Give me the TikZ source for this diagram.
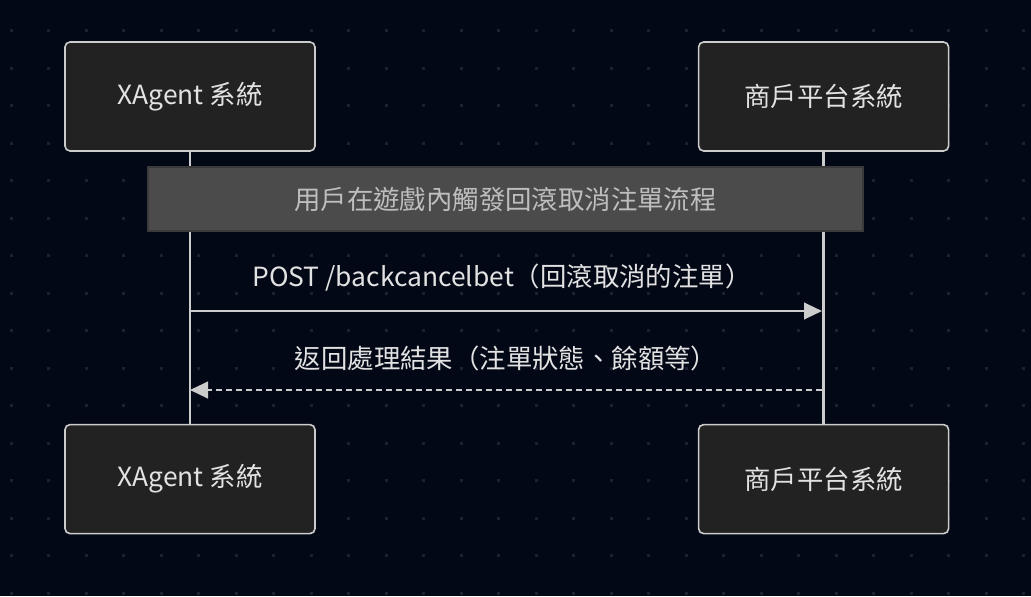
\documentclass[tikz,border=0pt]{standalone}
\usepackage{fontspec}
\setmainfont{Noto Sans CJK TC}
\usetikzlibrary{positioning}
\usetikzlibrary{arrows.meta}

\definecolor{bgnavy}{HTML}{020816}
\definecolor{dotgray}{HTML}{1B2130}
\definecolor{boxfill}{HTML}{212221}
\definecolor{linegray}{HTML}{CCCCCC}
\definecolor{notefill}{HTML}{4B4B4B}
\definecolor{noteline}{HTML}{3A3A3A}
\definecolor{notetext}{HTML}{BEBEBE}
\definecolor{msgtext}{HTML}{E2E2E2}

\begin{document}
\begin{tikzpicture}[x=0.75pt,y=-0.75pt,
			font=\fontsize{19.8}{23}\selectfont,
			actor/.style={draw=linegray,line width=1.2pt,fill=boxfill,rounded corners=3.75pt,
				minimum width=187.5pt,minimum height=81.75pt,text=msgtext},
			notebox/.style={draw=noteline,line width=0.8pt,fill=notefill,
				minimum width=536.25pt,minimum height=48pt,text=notetext},
			life/.style={draw=linegray,line width=2pt},
			msg/.style={draw=linegray,line width=1.6pt,-{Triangle[length=13.5pt,width=12.5pt]}},
			reply/.style={msg,dash pattern=on 4.5pt off 3pt},
			msglabel/.style={text=msgtext}]
			% background and dot grid
			\fill[bgnavy] (0,0) rectangle (1031,596);
			\foreach \i in {0,...,27}
				\foreach \j in {0,...,15}
					\fill[dotgray] (9.5+37.5*\i,29.2+37.5*\j) rectangle ++(3,3);
			% participants
			\node[actor] (xa) at (190,96.5) {XAgent 系統};
			\node[actor, right=286.5pt of xa] (sa) {商戶平台系統};
			\node[actor, below=204pt of xa] (xb) {XAgent 系統};
			\node[actor, below=204pt of sa] (sb) {商戶平台系統};
			\draw[life] (xa) -- (xb);
			\draw[life] (sa) -- (sb);
			% note
			\node[notebox] (flow) at (505.5,199) {用戶在遊戲內觸發回滾取消注單流程};
			% messages
			\coordinate (req1) at (190,311);
			\coordinate (req2) at (822,311);
			\coordinate (res1) at (822,390);
			\coordinate (res2) at (190,390);
			\node[msglabel] (reqlabel) at (502,278) {POST /backcancelbet（回滾取消的注單）};
			\node[msglabel] (reslabel) at (506,358) {返回處理結果（注單狀態、餘額等）};
			\draw[msg] (req1) -- (req2);
			\draw[reply] (res1) -- (res2);
		\end{tikzpicture}
\end{document}
